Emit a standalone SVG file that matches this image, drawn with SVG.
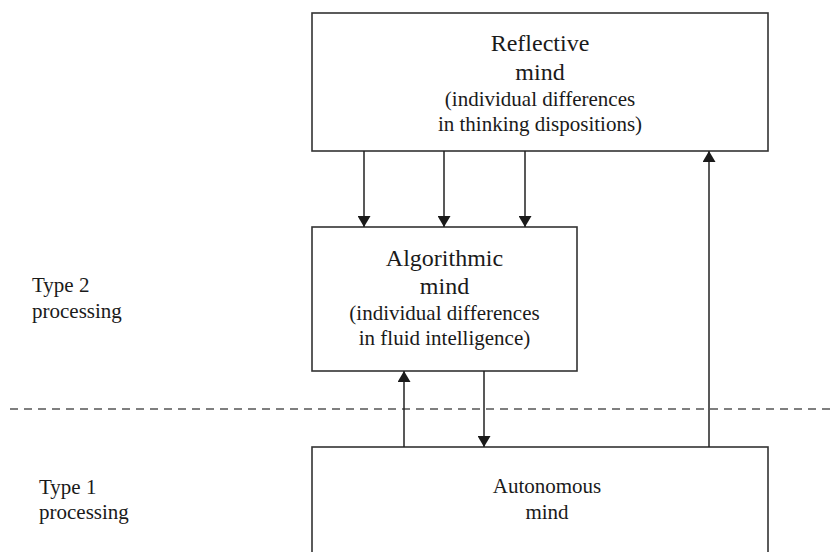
<svg xmlns="http://www.w3.org/2000/svg" width="833" height="552" viewBox="0 0 833 552">
<style>
.box{fill:#fff;stroke:#333;stroke-width:1.6}
.t{font-family:"Liberation Serif","Times New Roman",serif;fill:#1a1a1a;text-anchor:middle}
.h{font-size:24px}
.s{font-size:21px}
.lbl{font-family:"Liberation Serif","Times New Roman",serif;fill:#1a1a1a;font-size:21px}
.ln{stroke:#222;stroke-width:1.5;fill:none}
.dash{stroke:#555;stroke-width:1.4;stroke-dasharray:8 6;fill:none}
</style>
<defs>
<marker id="ah" markerWidth="12" markerHeight="13" refX="11" refY="6.5" orient="auto" markerUnits="userSpaceOnUse">
<path d="M0,0 L11,6.5 L0,13 Z" fill="#1a1a1a"/>
</marker>
</defs>
<rect width="833" height="552" fill="#fff"/>
<g id="divider">
<line class="dash" x1="10" y1="409" x2="833" y2="409"/>
</g>
<g id="label-type2">
<text class="lbl" x="32" y="292">Type 2</text>
<text class="lbl" x="32" y="318">processing</text>
</g>
<g id="label-type1">
<text class="lbl" x="39" y="494">Type 1</text>
<text class="lbl" x="39" y="519">processing</text>
</g>
<g id="reflective">
<rect class="box" x="312" y="13" width="456" height="138"/>
<text class="t h" x="540" y="51">Reflective</text>
<text class="t h" x="540" y="80">mind</text>
<text class="t s" x="540" y="106">(individual differences</text>
<text class="t s" x="540" y="131">in thinking dispositions)</text>
</g>
<g id="algorithmic">
<rect class="box" x="312" y="227" width="265" height="144"/>
<text class="t h" x="444.5" y="266">Algorithmic</text>
<text class="t h" x="444.5" y="294">mind</text>
<text class="t s" x="444.5" y="320">(individual differences</text>
<text class="t s" x="444.5" y="345">in fluid intelligence)</text>
</g>
<g id="autonomous">
<rect class="box" x="312" y="447" width="456" height="120"/>
<text class="t s" x="547" y="493">Autonomous</text>
<text class="t s" x="547" y="519">mind</text>
</g>
<g id="connectors">
<line class="ln" x1="364" y1="151" x2="364" y2="227" marker-end="url(#ah)"/>
<line class="ln" x1="444" y1="151" x2="444" y2="227" marker-end="url(#ah)"/>
<line class="ln" x1="525" y1="151" x2="525" y2="227" marker-end="url(#ah)"/>
<line class="ln" x1="404" y1="447" x2="404" y2="371" marker-end="url(#ah)"/>
<line class="ln" x1="484" y1="371" x2="484" y2="447" marker-end="url(#ah)"/>
<line class="ln" x1="709" y1="447" x2="709" y2="151" marker-end="url(#ah)"/>
</g>
</svg>
